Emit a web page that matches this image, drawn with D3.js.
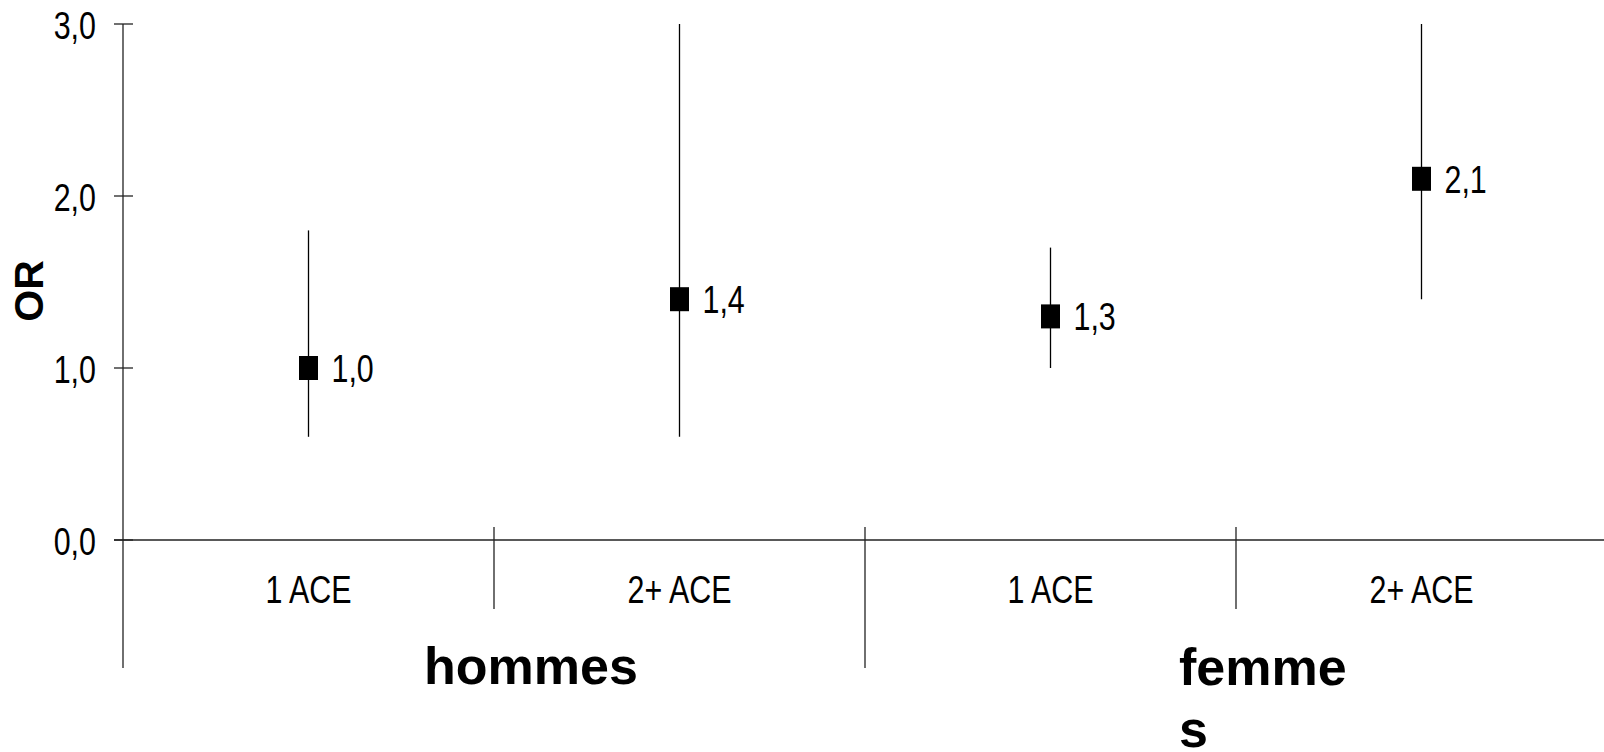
<!DOCTYPE html>
<html><head><meta charset="utf-8">
<script src="https://cdn.jsdelivr.net/npm/d3@7"></script>
<style>
html,body{margin:0;padding:0;background:#fff;}
svg{display:block;}
.narrow{font-family:"Liberation Sans",Arial,sans-serif;}
.bold{font-family:"Liberation Sans",Arial,sans-serif;font-weight:bold;}
</style></head>
<body>
<script>
const categories = ["1 ACE", "2+ ACE", "1 ACE", "2+ ACE"];
const groups = ["hommes", "femmes"];
const orValues = [1.0, 1.4, 1.3, 2.1];
const ciLow = [0.6, 0.6, 1.0, 1.4];
const ciHigh = [1.8, 3.0, 1.7, 3.0];
const yTicks = [0, 1, 2, 3];

const W = 1604, H = 752;
const svg = d3.select("body").append("svg").attr("width", W).attr("height", H);

const axisX = 123, catW = 371;
const x = d3.scaleBand().domain(d3.range(categories.length)).range([axisX, axisX + catW * categories.length]).padding(0);
const y = d3.scaleLinear().domain([0, 3]).range([540, 24]);
const fmt = d => d.toFixed(1).replace(".", ",");
const lineColor = "#222";
const SX = 0.78;

function narrowText(sel, px, py, anchor) {
  const g = sel.append("g").attr("transform", (d, i) => `translate(${px(d, i)},${py(d, i)}) scale(${SX},1)`);
  g.append("text").attr("class", "narrow").attr("text-anchor", anchor)
    .attr("font-size", 39).attr("fill", "#000");
  return g.select("text");
}

// Y axis line
svg.append("line").attr("x1", axisX).attr("x2", axisX).attr("y1", y(3)).attr("y2", 668)
  .attr("stroke", lineColor).attr("stroke-width", 1.3);
// Y ticks (cross)
svg.selectAll(".yt").data(yTicks).enter().append("line")
  .attr("x1", axisX - 9).attr("x2", axisX + 10)
  .attr("y1", d => y(d)).attr("y2", d => y(d))
  .attr("stroke", lineColor).attr("stroke-width", 1.3);
narrowText(svg.selectAll(".ytl").data(yTicks).enter(), () => 96, d => y(d) + 14.5, "end").text(fmt);

// X axis line
svg.append("line").attr("x1", axisX - 9).attr("x2", W).attr("y1", y(0)).attr("y2", y(0))
  .attr("stroke", lineColor).attr("stroke-width", 1.6);

// category separators
const seps = d3.range(1, categories.length);
svg.selectAll(".sep").data(seps).enter().append("line")
  .attr("x1", d => x(d)).attr("x2", d => x(d))
  .attr("y1", 527).attr("y2", d => d % 2 === 0 ? 668 : 609)
  .attr("stroke", lineColor).attr("stroke-width", 1.3);

// category labels
narrowText(svg.selectAll(".cl").data(categories).enter(), (d, i) => x(i) + x.bandwidth() / 2, () => 603, "middle").text(d => d);

// group labels
const gStart = g => x(g * 2);
svg.append("text").attr("class", "bold").attr("x", gStart(0) + 301).attr("y", 684)
  .attr("font-size", 52).attr("fill", "#000").text(groups[0]);
const fem = svg.append("text").attr("class", "bold").attr("x", gStart(1) + 314).attr("y", 685)
  .attr("font-size", 52).attr("fill", "#000");
fem.append("tspan").attr("x", gStart(1) + 314).text(groups[1].slice(0, 5));
fem.append("tspan").attr("x", gStart(1) + 314).attr("dy", 62).text(groups[1].slice(5));

// Y title
svg.append("text").attr("class", "bold").attr("transform", `translate(43,${291}) rotate(-90)`)
  .attr("text-anchor", "middle").attr("font-size", 41).attr("fill", "#000").text("OR");

// error bars
const cx = i => x(i) + x.bandwidth() / 2;
svg.selectAll(".eb").data(orValues).enter().append("line")
  .attr("x1", (d, i) => cx(i)).attr("x2", (d, i) => cx(i))
  .attr("y1", (d, i) => y(ciHigh[i])).attr("y2", (d, i) => y(ciLow[i]))
  .attr("stroke", "#000").attr("stroke-width", 1.3);
// markers
svg.selectAll(".mk").data(orValues).enter().append("rect")
  .attr("x", (d, i) => cx(i) - 9.5).attr("y", d => y(d) - 12)
  .attr("width", 19).attr("height", 24).attr("fill", "#000");
// value labels
narrowText(svg.selectAll(".vl").data(orValues).enter(), (d, i) => cx(i) + 23, d => y(d) + 14, "start").text(fmt);
</script>
</body></html>
